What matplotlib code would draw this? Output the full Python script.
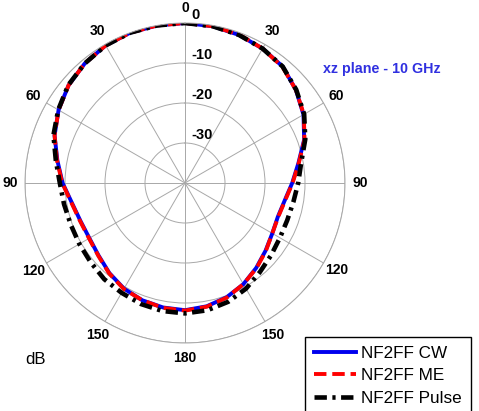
import numpy as np
import matplotlib
matplotlib.use("Agg")
import matplotlib.pyplot as plt
from matplotlib.lines import Line2D

# angulos (graus, sentido horario a partir do topo) e ganho normalizado em dB
angulos = [0, 10, 20, 30, 40, 50, 60, 70, 80, 90, 100, 110, 120, 130, 140, 150, 160, 170,
           180, 190, 200, 210, 220, 230, 240, 250, 260, 270, 280, 290, 300, 310, 320, 330, 340, 350]
cw_db = [0.0, -0.2, -0.6, -1.2, -2.0, -3.8, -5.8, -8.3, -11.2, -13.2, -14.7, -15.3, -14.8, -13.7,
         -12.3, -10.8, -9.6, -8.7, -8.2, -8.4, -8.8, -9.5, -10.6, -11.8, -12.4, -12.2, -11.3, -9.4,
         -7.6, -5.3, -3.5, -2.0, -1.0, -0.3, 0.0, 0.0]
me_db = [0.0, -0.2, -0.5, -1.2, -2.1, -3.8, -5.7, -8.2, -11.1, -13.1, -14.6, -15.2, -14.8, -13.6,
         -12.2, -10.8, -9.5, -8.6, -8.1, -8.3, -8.8, -9.4, -10.5, -11.7, -12.3, -12.1, -11.2, -9.3,
         -7.5, -5.3, -3.5, -2.0, -1.0, -0.3, 0.0, 0.0]
pulse_db = [0.0, -0.2, -0.6, -1.2, -2.0, -3.7, -5.6, -8.0, -10.5, -11.7, -12.5, -12.8, -12.6,
            -11.9, -10.9, -9.5, -8.4, -7.7, -7.4, -7.5, -7.8, -8.3, -8.6, -9.2, -9.5, -9.6, -9.3,
            -8.7, -7.2, -5.0, -3.4, -1.9, -1.0, -0.3, 0.0, 0.0]

rotulos_angulo = ['0', '30', '60', '90', '120', '150', '180', '150', '120', '90', '60', '30']
aneis = [-30, -20, -10, 0]
legendas = ['NF2FF CW', 'NF2FF ME', 'NF2FF Pulse']

W, H = 479, 411
fig = plt.figure(figsize=(W / 100, H / 100), dpi=100)
cx, cy, R = 185, 183, 160
ax = fig.add_axes([(cx - R) / W, (H - cy - R) / H, 2 * R / W, 2 * R / H], projection='polar')
ax.set_theta_zero_location('N')
ax.set_theta_direction(-1)
ax.set_ylim(-40, 0)
ax.set_rticks(aneis)
ax.set_yticklabels([])
ax.set_thetagrids(range(0, 360, 30), labels=[''] * 12)
ax.grid(True, color='#a8a8a8', linewidth=0.7)
ax.spines['polar'].set_color('#a8a8a8')
ax.spines['polar'].set_linewidth(0.7)

th = np.radians(angulos + [360])
fecha = lambda v: v + [v[0]]
ax.plot(th, fecha(cw_db), color='#0000ee', linewidth=2.8, solid_joinstyle='round')
ax.plot(th, fecha(me_db), color='#ff0000', linewidth=2.8, dashes=(3.2, 1.5))
ax.plot(th, fecha(pulse_db), color='black', linewidth=3.3, dashes=(2.7, 1.2, 0.7, 1.2))

fonte = 'Liberation Sans'
# rotulos dos angulos fora do circulo
for a, txt in zip(range(0, 360, 30), rotulos_angulo):
    ax.text(np.radians(a), 3.75, txt, ha='center', va='center', fontsize=10,
            fontweight='bold', family=fonte)

# rotulos dos aneis (dB)
for v in aneis:
    ax.annotate(str(v), xy=(0, v), xytext=(6, 8), textcoords='offset pixels',
                ha='left', va='center', fontsize=10.5, fontweight='bold', family=fonte)

fig.text(382 / W, 1 - 69 / H, 'xz plane - 10 GHz', color='#3030e0', fontsize=10.3,
         fontweight='bold', family=fonte, ha='center', va='center')
fig.text(35 / W, 1 - 359 / H, 'dB', fontsize=12, family=fonte, ha='center', va='center')

handles = [Line2D([], [], color='#0000ee', linewidth=2.8),
           Line2D([], [], color='#ff0000', linewidth=2.8, dashes=(3.2, 1.5)),
           Line2D([], [], color='black', linewidth=3.3, dashes=(2.7, 1.2, 0.7, 1.2))]
leg = fig.legend(handles, legendas, loc='upper left', bbox_to_anchor=(305 / W, 1 - 337 / H),
                 prop={'family': fonte, 'size': 12.3}, fancybox=False, framealpha=1,
                 edgecolor='black', handlelength=2.5, handletextpad=0.3, labelspacing=0.45,
                 borderpad=0.5, borderaxespad=0)
leg.get_frame().set_linewidth(1.0)

fig.savefig('out.png', dpi=100)
